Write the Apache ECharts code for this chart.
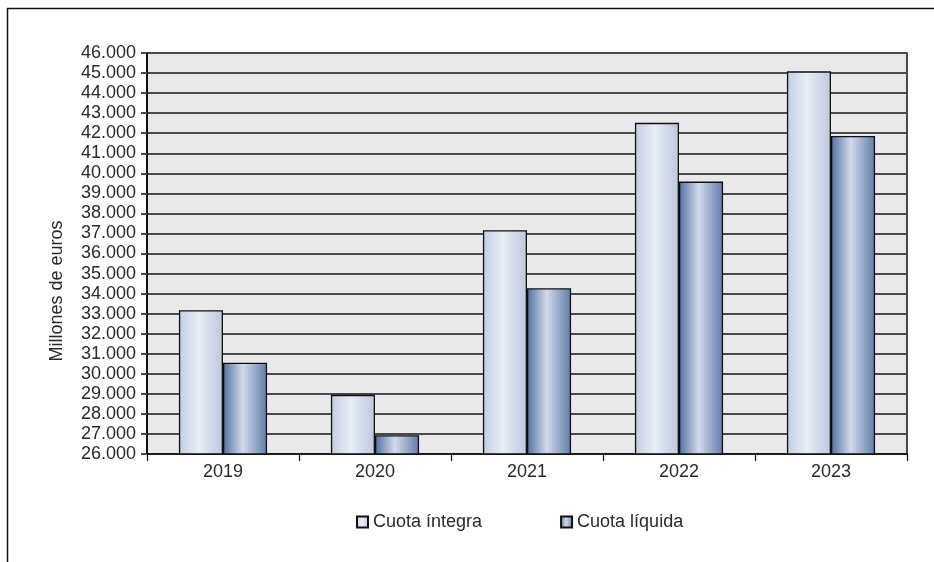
<!DOCTYPE html>
<html>
<head>
<meta charset="utf-8">
<script src="https://cdn.jsdelivr.net/npm/echarts@6/dist/echarts.min.js"></script>
<style>
  html, body { margin: 0; padding: 0; background: #fff; }
  #chart { width: 934px; height: 562px; }
</style>
</head>
<body>
<div id="chart"></div>
<script>
const years = ['2019', '2020', '2021', '2022', '2023'];
const cuotaIntegra = [33170, 28950, 37165, 42515, 45085];
const cuotaLiquida = [30550, 26935, 34265, 39585, 41865];
const seriesNames = ['Cuota íntegra', 'Cuota líquida'];
const yMin = 26000, yMax = 46000, yStep = 1000;

const font = '"Liberation Sans", Arial, sans-serif';

function barGradient(edgeL, mid, edgeR) {
  return new echarts.graphic.LinearGradient(0, 0, 1, 0, [
    { offset: 0, color: edgeL },
    { offset: 0.45, color: mid },
    { offset: 1, color: edgeR }
  ]);
}

const chart = echarts.init(document.getElementById('chart'));
chart.setOption({
  animation: false,
  textStyle: { fontFamily: font },
  grid: {
    left: 147, top: 53, right: 27, bottom: 108,
    show: true, backgroundColor: '#e9e9e9', borderColor: '#111', borderWidth: 1.5
  },
  legend: {
    bottom: 26,
    left: 351,
    itemWidth: 11, itemHeight: 11,
    itemGap: 78,
    icon: 'rect',
    textStyle: { fontSize: 18, color: '#2a2a2a', fontFamily: font },
    data: seriesNames
  },
  xAxis: {
    type: 'category',
    data: years,
    axisLine: { lineStyle: { color: '#111', width: 1.5 } },
    axisTick: { show: true, length: 7, lineStyle: { color: '#111', width: 1.2 } },
    axisLabel: { fontSize: 18, color: '#2a2a2a', margin: 9 }
  },
  yAxis: {
    type: 'value',
    min: yMin, max: yMax, interval: yStep,
    axisLine: { show: true, lineStyle: { color: '#111', width: 2 } },
    axisTick: { show: true, length: 6, lineStyle: { color: '#4a4a4a', width: 2 } },
    axisLabel: {
      fontSize: 18, color: '#2a2a2a', margin: 11,
      formatter: v => v.toLocaleString('de-DE').replace(/,/g, '.')
    },
    splitLine: { lineStyle: { color: '#4a4a4a', width: 2 } }
  },
  graphic: [
    { type: 'line', shape: { x1: 7, y1: 8.5, x2: 934, y2: 8.5 }, style: { stroke: '#111', lineWidth: 1.5 } },
    { type: 'line', shape: { x1: 7.5, y1: 8, x2: 7.5, y2: 562 }, style: { stroke: '#111', lineWidth: 1.5 } },
    {
      type: 'text', x: 57, y: 291, rotation: Math.PI / 2,
      style: { text: 'Millones de euros', fontSize: 18, fontFamily: font, fill: '#2a2a2a', align: 'center', verticalAlign: 'middle' }
    }
  ],
  series: [
    {
      name: seriesNames[0], type: 'bar', data: cuotaIntegra,
      barGap: '0%', barCategoryGap: '42%',
      itemStyle: { color: barGradient('#c3cee0', '#e8edf6', '#bcc8db'), borderColor: '#111', borderWidth: 1.3 }
    },
    {
      name: seriesNames[1], type: 'bar', data: cuotaLiquida,
      itemStyle: { color: barGradient('#5070a3', '#d3dae8', '#5f7cab'), borderColor: '#111', borderWidth: 1.3 }
    }
  ]
});
</script>
</body>
</html>
